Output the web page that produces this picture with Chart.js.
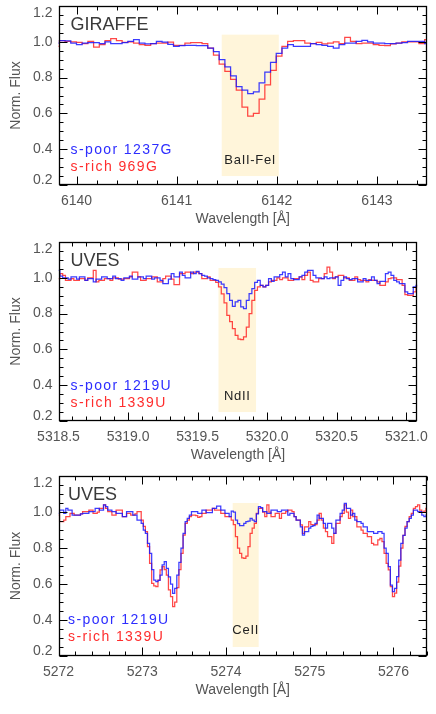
<!DOCTYPE html>
<html><head><meta charset="utf-8">
<script src="https://cdn.jsdelivr.net/npm/chart.js@4"></script>
<style>
html,body{margin:0;padding:0;background:#fff;}
body{width:436px;height:714px;position:relative;overflow:hidden;}
canvas{position:absolute;left:0;}
</style></head><body>
<canvas id="c1" width="436" height="236" style="top:0px"></canvas>
<canvas id="c2" width="436" height="234" style="top:236px"></canvas>
<canvas id="c3" width="436" height="244" style="top:470px"></canvas>
<script>
// ---------- DATA ----------
// Panel 1: GIRAFFE, Ba II - Fe I
const wl1Start = 6139.80, wl1Step = 0.057;
const poor1 = [0.993,1.006,1.005,0.993,0.984,0.993,0.996,0.996,0.990,1.000,
 0.990,0.990,0.995,1.002,1.012,0.993,0.988,0.990,1.003,0.998,
 0.985,0.975,0.978,0.980,0.980,0.978,0.978,0.965,0.945,0.900,
 0.860,0.810,0.750,0.730,0.710,0.720,0.770,0.830,0.885,0.935,
 0.965,0.984,0.975,0.975,0.975,0.990,0.984,0.980,0.975,0.965,
 0.984,0.993,0.993,1.003,1.008,0.999,0.993,0.993,0.990,0.990,
 0.993,0.995,1.003,1.003,1.003,0.990];
const rich1 = [0.975,1.006,1.003,1.000,0.997,0.990,1.003,0.970,0.984,1.006,
 1.018,1.006,0.997,0.999,0.993,0.984,0.980,0.990,0.993,0.993,
 0.998,0.980,0.980,0.993,0.995,0.995,0.990,0.965,0.925,0.875,
 0.835,0.790,0.730,0.635,0.585,0.600,0.680,0.760,0.840,0.920,
 0.975,1.003,1.006,1.006,0.993,0.990,0.997,0.988,0.993,0.999,
 0.990,1.025,1.003,0.990,0.993,0.993,0.984,0.980,0.978,0.988,
 0.993,0.999,0.999,0.999,0.990,1.012];

// Panel 2: UVES, Nd II
const wl2Start = 5318.50, wl2Step = 0.02;
const poor2 = [1.042,1.010,0.999,0.999,0.992,1.005,1.005,0.992,1.005,1.005,
 0.986,0.995,0.995,0.977,0.992,0.992,1.005,1.005,0.995,0.995,
 1.010,0.995,0.995,0.986,0.999,0.999,1.010,0.992,0.992,1.005,
 1.005,0.995,1.010,1.010,0.992,0.999,0.999,0.986,0.967,0.967,
 0.992,1.023,1.005,1.005,1.032,1.014,0.999,0.999,1.032,1.023,
 1.036,1.023,1.014,1.010,0.999,0.995,0.990,0.986,0.977,0.965,
 0.945,0.912,0.874,0.840,0.865,0.874,0.837,0.828,0.874,0.912,
 0.940,0.975,0.986,0.958,0.949,0.958,0.995,0.980,1.005,1.005,
 1.018,1.032,1.005,1.023,0.995,0.990,0.990,1.005,1.014,1.032,
 1.042,1.042,1.014,0.999,0.999,0.995,1.005,0.995,0.999,0.999,
 1.005,0.958,0.986,1.005,0.995,0.990,0.995,0.995,0.977,0.977,
 0.995,0.986,0.986,1.005,0.986,0.967,0.980,0.980,1.023,1.032,
 1.014,0.986,0.977,0.967,0.967,0.921,0.912,0.912,0.949,0.958];
const rich2 = [0.995,1.023,1.014,0.986,0.986,0.995,0.986,0.986,0.995,0.995,
 0.986,0.999,0.999,1.042,0.977,0.986,0.986,0.995,0.995,0.986,
 0.999,0.999,0.992,0.992,0.995,0.995,1.005,1.032,1.032,1.005,
 0.986,0.986,0.995,0.995,1.005,1.005,0.977,0.977,0.995,1.010,
 1.010,0.992,0.962,0.962,1.023,1.023,1.032,1.032,1.023,1.032,
 1.032,1.023,0.995,0.995,1.005,0.986,0.986,0.975,0.950,0.910,
 0.860,0.790,0.755,0.716,0.679,0.658,0.655,0.670,0.725,0.800,
 0.874,0.930,0.949,0.958,0.949,0.958,0.977,0.986,0.986,0.999,
 0.990,0.999,0.999,0.986,0.986,0.995,0.995,1.005,0.990,1.014,
 1.032,0.986,0.977,0.977,0.995,0.995,1.023,1.060,1.032,0.995,
 1.005,1.014,1.014,0.999,0.999,0.986,0.986,1.005,0.990,0.986,
 0.986,0.977,0.990,0.986,0.986,0.977,0.958,0.958,0.977,0.995,
 0.999,0.999,0.990,0.990,0.958,0.906,0.902,0.902,0.921,0.949];

// Panel 3: UVES, Ce II
const wl3Start = 5272.0, wl3Step = 0.025;
const poor3 = [0.993,1.011,1.011,0.993,1.020,1.011,1.011,0.983,0.983,0.983,
 0.983,0.990,0.993,0.993,0.993,1.002,1.002,1.002,1.020,1.020,
 1.011,1.011,1.039,1.030,1.011,1.011,1.002,1.002,0.993,0.993,
 0.993,0.974,0.974,1.002,1.002,1.002,0.983,0.983,0.955,0.955,
 0.937,0.900,0.881,0.826,0.770,0.680,0.622,0.613,0.620,0.650,
 0.706,0.724,0.687,0.640,0.600,0.548,0.576,0.650,0.720,0.800,
 0.881,0.946,0.965,0.983,1.002,1.002,1.002,0.993,0.993,1.011,
 1.011,0.996,0.996,0.996,1.020,1.020,1.033,1.033,1.011,1.011,
 0.993,0.993,0.975,1.005,1.000,0.955,0.935,0.925,0.925,0.937,
 0.946,0.950,0.965,0.955,0.946,0.990,1.030,1.025,1.002,1.002,
 0.993,0.993,1.011,1.011,1.011,1.002,1.002,1.011,1.011,1.011,
 0.983,0.993,0.993,0.974,0.955,0.955,0.918,0.872,0.891,0.891,
 0.910,0.920,0.925,0.937,0.983,0.965,0.965,0.937,0.910,0.937,
 0.937,0.910,0.881,0.955,0.955,0.993,1.011,1.048,1.020,1.020,
 0.983,0.993,0.955,0.946,0.946,0.937,0.918,0.918,0.891,0.891,
 0.891,0.881,0.881,0.891,0.891,0.881,0.800,0.770,0.696,0.594,
 0.557,0.576,0.641,0.733,0.826,0.870,0.910,0.946,0.965,0.983,
 1.011,1.011,1.002,1.002,0.983,0.974,0.983];
const rich3 = [0.983,0.946,0.946,0.955,0.974,0.974,0.993,0.993,0.983,0.983,
 0.983,0.990,1.002,1.002,1.002,1.011,1.011,0.993,0.993,1.000,
 1.020,1.020,1.039,1.020,1.002,1.002,0.983,0.983,1.011,1.011,
 1.011,0.974,0.974,0.993,0.993,0.983,0.983,0.990,1.002,1.002,
 0.955,0.920,0.891,0.807,0.715,0.604,0.590,0.585,0.622,0.678,
 0.696,0.680,0.650,0.567,0.530,0.474,0.500,0.580,0.680,0.770,
 0.872,0.937,0.955,0.974,0.983,0.983,0.980,0.970,0.975,0.993,
 0.993,1.011,1.011,1.011,1.020,1.011,1.011,1.011,0.993,0.993,
 0.974,0.974,0.974,0.955,0.930,0.863,0.800,0.770,0.745,0.743,
 0.755,0.807,0.881,0.910,0.937,0.993,1.020,1.020,1.000,0.974,
 1.039,1.000,0.974,0.974,0.993,0.993,0.965,0.993,0.993,1.002,
 1.011,1.011,1.002,0.974,0.955,0.955,0.928,0.881,0.918,0.918,
 0.946,0.930,0.928,0.930,0.955,0.993,0.955,0.910,0.891,0.863,
 0.863,0.826,0.881,0.937,0.937,0.974,0.993,1.040,1.000,0.965,
 1.011,0.974,0.974,0.918,0.918,0.900,0.881,0.881,0.863,0.863,
 0.826,0.817,0.817,0.845,0.854,0.835,0.770,0.715,0.678,0.585,
 0.530,0.550,0.610,0.700,0.800,0.870,0.920,0.946,0.975,0.993,
 1.020,1.030,1.039,1.011,0.998,1.005,1.020];

// axis ranges, ticks, labels
const xRange1 = [6139.82, 6143.5], xRange2 = [5318.5, 5321.08], xRange3 = [5272.0, 5276.4];
const xMajor = [1, 0.5, 1], xMinor = [0.2, 0.1, 0.2], xDecimals = [0, 1, 0];
const yRange = [0.2, 1.2], yMajor = 0.2, yMinor = 0.05;
const bands = [[6141.45, 6142.02], [5319.65, 5319.92], [5274.08, 5274.39]];
const bandY = [[0.25, 1.04], [0.25, 1.055], [0.25, 1.05]];
const bandLabels = ['BaII-FeI', 'NdII', 'CeII'];
const instruments = ['GIRAFFE', 'UVES', 'UVES'];
const poorNames = ['s-poor 1237G', 's-poor 1219U', 's-poor 1219U'];
const richNames = ['s-rich 969G', 's-rich 1339U', 's-rich 1339U'];
const xTitle = 'Wavelength [Å]', yTitle = 'Norm. Flux';

// ---------- BUILD ----------
function toPts(start, step, vals) { return vals.map((v, i) => ({x: start + i * step, y: v})); }
const FONT = '"Liberation Sans", Arial, sans-serif';
const BLUE = 'rgba(25,25,255,0.85)', RED = 'rgba(255,25,25,0.8)';
const BLUE_T = 'rgb(45,45,255)', RED_T = 'rgb(255,45,45)';

const panels = [
  {id: 'c1', H: 236, plotH: 179, xt: 8.6, dx: 12, start: wl1Start, step: wl1Step, poor: poor1, rich: rich1, xr: xRange1},
  {id: 'c2', H: 234, plotH: 179, xt: 6.6, dx: 12, start: wl2Start, step: wl2Step, poor: poor2, rich: rich2, xr: xRange2},
  {id: 'c3', H: 244, plotH: 180, xt: 15.6, dx: 9.5, start: wl3Start, step: wl3Step, poor: poor3, rich: rich3, xr: xRange3}
];

panels.forEach((p, k) => {
  const deco = {
    id: 'deco' + k,
    beforeDatasetsDraw(chart) {
      const {ctx, scales: {x, y}} = chart;
      const x0 = x.getPixelForValue(bands[k][0]), x1 = x.getPixelForValue(bands[k][1]);
      const y0 = y.getPixelForValue(bandY[k][1]), y1 = y.getPixelForValue(bandY[k][0]);
      ctx.save();
      ctx.fillStyle = 'rgb(255,245,218)';
      ctx.fillRect(x0, y0, x1 - x0, y1 - y0);
      ctx.restore();
    },
    afterDraw(chart) {
      const {ctx, chartArea: a, scales: {x, y}} = chart;
      ctx.save();
      ctx.strokeStyle = '#000';
      ctx.lineWidth = 1;
      const L = Math.round(a.left) + 0.5, R = Math.round(a.right) - 0.5;
      const T = Math.round(a.top) + 0.5, B = Math.round(a.bottom) - 0.5;
      ctx.beginPath();
      // x minor / major ticks
      const mx = xMinor[k];
      for (let v = Math.ceil(x.min / mx - 1e-6) * mx; v <= x.max + 1e-9; v += mx) {
        const px = Math.round(x.getPixelForValue(v)) + 0.5;
        const isMaj = Math.abs(v / xMajor[k] - Math.round(v / xMajor[k])) < 1e-4;
        const len = isMaj ? 8 : 4;
        ctx.moveTo(px, B); ctx.lineTo(px, B - len);
        ctx.moveTo(px, T); ctx.lineTo(px, T + len);
      }
      for (let v = Math.ceil(y.min / yMinor - 1e-6) * yMinor; v <= y.max + 1e-9; v += yMinor) {
        const py = Math.round(y.getPixelForValue(v)) + 0.5;
        const isMaj = Math.abs(v / yMajor - Math.round(v / yMajor)) < 1e-4;
        const len = isMaj ? 8 : 4;
        ctx.moveTo(L, py); ctx.lineTo(L + len, py);
        ctx.moveTo(R, py); ctx.lineTo(R - len, py);
      }
      ctx.stroke();
      ctx.lineWidth = 1.3;
      ctx.strokeRect(L, T, R - L, B - T);
      // y tick labels (kept inside the axis span)
      ctx.font = '14px ' + FONT;
      ctx.fillStyle = '#555';
      ctx.textAlign = 'right';
      ctx.textBaseline = 'middle';
      y.ticks.forEach(t => {
        let py = y.getPixelForValue(t.value);
        py = Math.min(Math.max(py, a.top + 7), a.bottom - 4.5);
        ctx.fillText(t.value.toFixed(1), a.left - 6, py);
      });
      // instrument
      ctx.textAlign = 'left';
      ctx.fillStyle = '#3a3a3a';
      ctx.font = '18px ' + FONT;
      ctx.fillText(instruments[k], a.left + p.dx, a.top + 19);
      // legend text
      ctx.font = '14px ' + FONT;
      ctx.letterSpacing = '1.4px';
      ctx.fillStyle = BLUE_T;
      ctx.fillText(poorNames[k], a.left + p.dx, a.top + 144);
      ctx.fillStyle = RED_T;
      ctx.fillText(richNames[k], a.left + p.dx, a.top + 161.5);
      // band label
      ctx.letterSpacing = '0.7px';
      ctx.font = '13px ' + FONT;
      ctx.fillStyle = '#222';
      ctx.textAlign = 'center';
      const bx = (x.getPixelForValue(bands[k][0]) + x.getPixelForValue(bands[k][1])) / 2;
      ctx.fillText(bandLabels[k], bx, y.getPixelForValue(0.34));
      ctx.restore();
    }
  };

  new Chart(document.getElementById(p.id), {
    type: 'line',
    data: {
      datasets: [
        {label: poorNames[k], data: toPts(p.start, p.step, p.poor), borderColor: BLUE, borderWidth: 1.25, stepped: 'middle', pointRadius: 0, fill: false},
        {label: richNames[k], data: toPts(p.start, p.step, p.rich), borderColor: RED, borderWidth: 1.25, stepped: 'middle', pointRadius: 0, fill: false}
      ]
    },
    options: {
      responsive: false,
      animation: false,
      events: [],
      layout: {padding: {top: 6, right: 9, bottom: 0, left: 0}},
      plugins: {legend: {display: false}, tooltip: {enabled: false}},
      scales: {
        x: {
          type: 'linear', min: p.xr[0], max: p.xr[1],
          grid: {display: false, drawTicks: false}, border: {display: false},
          ticks: {stepSize: xMajor[k], includeBounds: false, padding: 8, maxRotation: 0, autoSkip: false,
                  color: '#555', font: {family: FONT, size: 14},
                  callback: v => Number(v).toFixed(xDecimals[k])},
          title: {display: true, text: xTitle, color: '#555', font: {family: FONT, size: 14}, padding: {top: 0, bottom: p.xt}},
          afterFit: s => { s.height = p.H - 6 - p.plotH; }
        },
        y: {
          min: yRange[0], max: yRange[1],
          grid: {display: false, drawTicks: false}, border: {display: false},
          ticks: {display: false, stepSize: yMajor, includeBounds: false},
          title: {display: true, text: yTitle, color: '#555', font: {family: FONT, size: 14}, padding: {top: 7.6, bottom: 0}},
          afterFit: s => { s.width = 58.5; }
        }
      }
    },
    plugins: [deco]
  });
});
</script>
</body></html>
